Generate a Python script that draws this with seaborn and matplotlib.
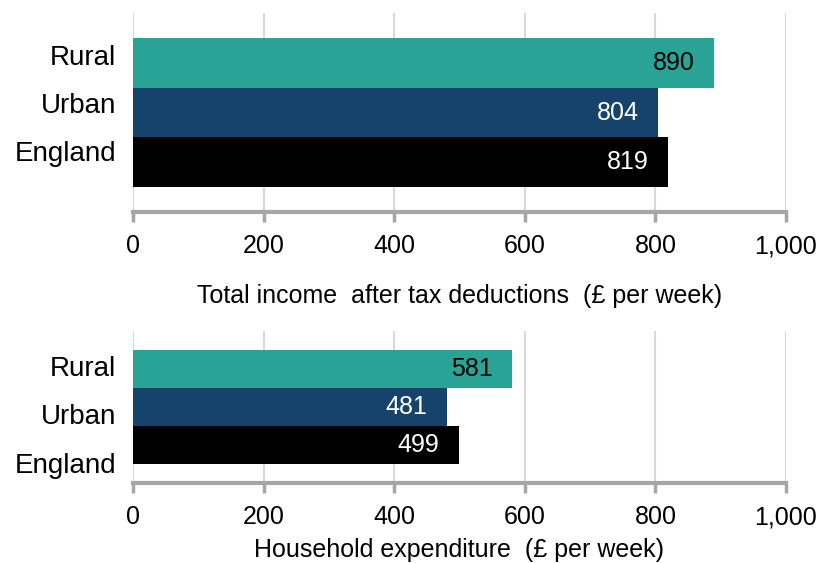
import matplotlib
matplotlib.use("Agg")
import matplotlib.pyplot as plt
import seaborn as sns
import pandas as pd

categories = ["Rural", "Urban", "England"]
income = [890, 804, 819]
expenditure = [581, 481, 499]
xticks = [0, 200, 400, 600, 800, 1000]
xtick_labels = ["0", "200", "400", "600", "800", "1,000"]
colors = ["#29A396", "#15436B", "#000000"]
label_colors = ["black", "white", "white"]

sns.set_theme(style="white")
plt.rcParams["font.family"] = ["Liberation Sans", "DejaVu Sans"]

fig = plt.figure(figsize=(8.19, 5.63), dpi=100)
ax1 = fig.add_axes([133/819, 1-212/563, (786-133)/819, (212-13)/563])
ax2 = fig.add_axes([133/819, 1-483/563, (786-133)/819, (483-331)/563])

def draw(ax, values, xlabel, label_y, ylabel_pos):
    df = pd.DataFrame({"cat": categories, "val": values})
    sns.barplot(data=df, x="val", y="cat", hue="cat", palette=colors,
                orient="h", width=1.0, dodge=False, legend=False, ax=ax,
                linewidth=0, saturation=1)
    ax.set_xlim(0, 1000)
    ax.set_ylim(3.0, -1.0)
    ax.set_yticks(ylabel_pos)
    ax.set_yticklabels(categories)
    ax.set_xticks(xticks)
    ax.set_xticklabels(xtick_labels, fontsize=18)
    ax.tick_params(axis="y", labelsize=20, length=0, pad=12, labelcolor="black")
    ax.tick_params(axis="x", direction="out", length=7, width=2.5,
                   color="#A6A6A6", pad=9, bottom=True, labelcolor="black")
    ax.set_ylabel("")
    ax.grid(axis="x", color="#D9D9D9", linewidth=1.5)
    ax.grid(axis="y", visible=False)
    ax.set_axisbelow(True)
    for s in ["top", "right", "left"]:
        ax.spines[s].set_visible(False)
    ax.spines["bottom"].set_color("#A6A6A6")
    ax.spines["bottom"].set_linewidth(3)
    ax.set_xlabel(xlabel, fontsize=18, color="black")
    ax.xaxis.set_label_coords(0.5, label_y)
    ax.xaxis.label.set_verticalalignment("center")
    for i, v in enumerate(values):
        ax.annotate(str(v), xy=(v, i), xytext=(-14, 0),
                    textcoords="offset points", ha="right", va="center",
                    fontsize=18, color=label_colors[i])

draw(ax1, income, "Total income  after tax deductions  (£ per week)",
     (212-296)/199, [-0.16, 0.8, 1.78])
draw(ax2, expenditure, "Household expenditure  (£ per week)",
     (483-550)/152, [-0.08, 1.18, 2.47])

fig.savefig("out.png", dpi=100)
